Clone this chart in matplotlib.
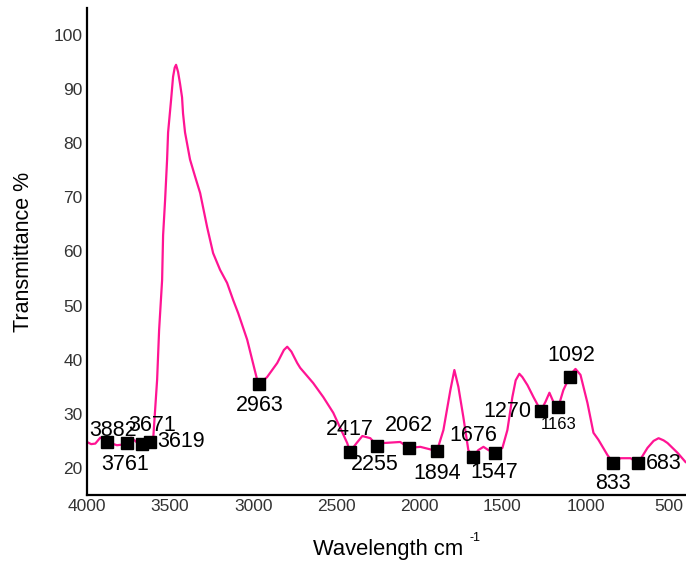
import matplotlib
matplotlib.use("Agg")
import matplotlib.pyplot as plt

plt.rcParams['font.family'] = ['Liberation Sans', 'DejaVu Sans']

# Spectrum (wavenumber cm-1, transmittance %)
wavenumber = [4000, 3975, 3950, 3920, 3895, 3860, 3820, 3790, 3761, 3735, 3710, 3685,
              3660, 3640, 3619, 3602, 3578, 3566, 3548, 3542, 3530, 3518, 3512, 3494,
              3482, 3472, 3464, 3452, 3440, 3428, 3422, 3410, 3380, 3349, 3319, 3277,
              3241, 3199, 3157, 3120, 3090, 3036,
              2976, 2963, 2916, 2855, 2815, 2795, 2770, 2735, 2717, 2639, 2578, 2518,
              2434, 2417, 2380, 2343, 2295, 2255, 2217, 2115, 2062, 1994, 1930, 1894,
              1855, 1813, 1789, 1765, 1735, 1705, 1676, 1645, 1614, 1584, 1547, 1500,
              1470, 1440, 1420, 1398, 1380, 1349, 1313, 1285, 1270, 1241, 1217, 1193,
              1163, 1133, 1096, 1075, 1060, 1030, 988, 952, 922, 868, 833, 789, 729,
              683, 627, 590, 560, 530, 506, 446, 398]
transmittance = [24.8, 24.4, 24.5, 25.6, 25.3, 24.6, 24.2, 24.3, 24.6, 25.6, 25.0, 24.3,
                 24.2, 24.5, 24.8, 25.2, 36.3, 45.5, 54.7, 63.0, 69.5, 77.0, 82.0, 88.0,
                 92.3, 94.0, 94.5, 93.2, 91.0, 88.5, 85.5, 82.0, 77.0, 73.8, 70.8, 64.5,
                 59.7, 56.6, 54.2, 51.0, 48.6, 43.7,
                 36.3, 35.5, 36.8, 39.4, 41.8, 42.4, 41.5, 39.4, 38.5, 35.7, 33.1, 30.2,
                 24.6, 23.0, 24.5, 25.9, 25.5, 24.1, 24.6, 24.8, 23.7, 23.9, 23.4, 23.1,
                 27.0, 34.4, 38.1, 35.0, 29.4, 23.3, 22.0, 23.3, 23.9, 23.3, 22.8, 23.7,
                 27.0, 33.1, 36.2, 37.4, 36.8, 35.3, 33.1, 31.5, 30.5, 32.2, 33.9, 32.2,
                 31.3, 34.4, 36.8, 37.8, 38.3, 37.2, 32.0, 26.5, 25.2, 22.4, 20.9, 21.8, 21.8,
                 20.9, 23.7, 25.0, 25.5, 25.1, 24.6, 22.8, 21.1]

# Marked peaks
peak_x = [3882, 3761, 3671, 3619, 2963, 2417, 2255, 2062, 1894, 1676, 1547, 1270, 1163, 1092, 833, 683]
peak_y = [24.8, 24.6, 24.4, 24.8, 35.5, 23.0, 24.1, 23.7, 23.1, 22.0, 22.8, 30.5, 31.3, 36.8, 20.9, 20.9]
peak_labels = ['3882', '3761', '3671', '3619', '2963', '2417', '2255', '2062', '1894',
               '1676', '1547', '1270', '1163', '1092', '833', '683']

# label placement (offset pixels, alignment)
offsets = [(6, 11, 'center'), (-2, -21, 'center'), (10, 19, 'center'), (7, 0, 'left'),
           (0, -21, 'center'), (0, 22, 'center'), (-2, -19, 'center'), (0, 22, 'center'),
           (0, -22, 'center'), (0, 22, 'center'), (0, -20, 'center'), (-9, 0, 'right'),
           (0, -18, 'center'), (1, 22, 'center'), (0, -20, 'center'), (8, 0, 'left')]

fig = plt.figure(figsize=(6.86, 5.64), dpi=100)
ax = fig.add_axes([87/686, 1-495/564, (686-87)/686, (495-8)/564])

ax.plot(wavenumber, transmittance, color='#ff1493', lw=1.6, zorder=2)
ax.plot(peak_x, peak_y, 's', color='black', markersize=8, zorder=3)

for x, y, lab, (dx, dy, ha) in zip(peak_x, peak_y, peak_labels, offsets):
    fs = 12 if lab == '1163' else 15.5
    ax.annotate(lab, (x, y), xytext=(dx, dy), textcoords='offset pixels',
                ha=ha, va='center', fontsize=fs, color='black', zorder=4)

ax.set_xlim(4000, 395)
ax.set_ylim(15, 105)
ax.set_xticks([4000, 3500, 3000, 2500, 2000, 1500, 1000, 500])
ax.set_yticks([20, 30, 40, 50, 60, 70, 80, 90, 100])
ax.tick_params(length=0, labelsize=12.5, labelcolor='#333333', pad=3)

for s in ['top', 'right']:
    ax.spines[s].set_visible(False)
for s in ['left', 'bottom']:
    ax.spines[s].set_linewidth(1.6)
    ax.spines[s].set_color('black')

# x label with small raised "-1"
fig.text(313/686, 1-550/564, 'Wavelength cm', fontsize=15.8, ha='left', va='center')
fig.text(470/686, 1-538/564, '-1', fontsize=9, ha='left', va='center')
ax.set_ylabel('Transmittance %', fontsize=15.5, labelpad=14)

fig.savefig('out.png', dpi=100)
